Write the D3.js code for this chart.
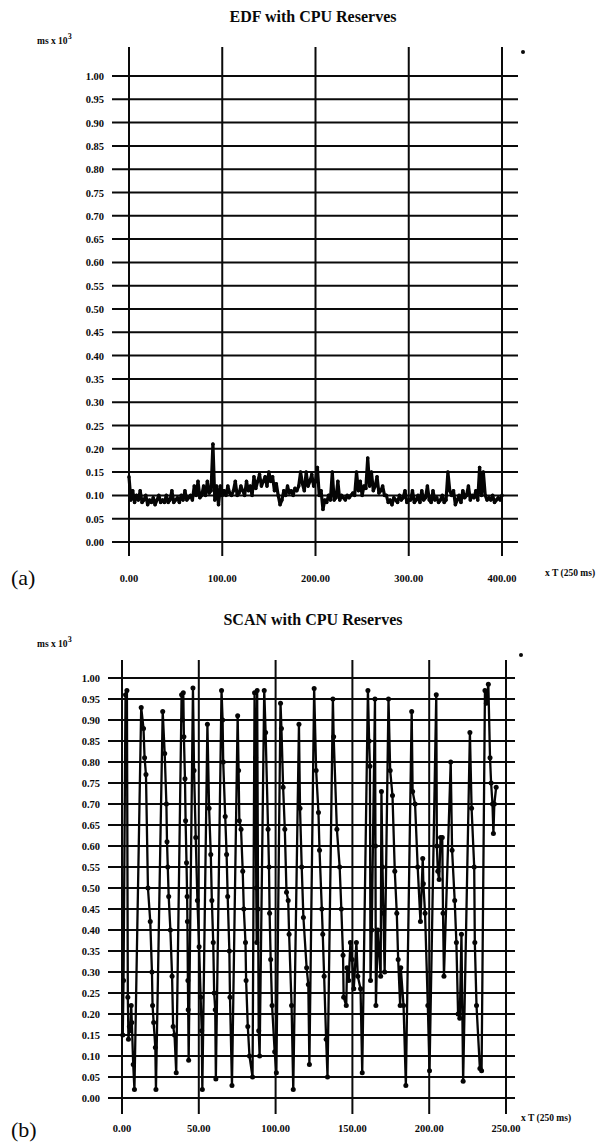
<!DOCTYPE html>
<html>
<head>
<meta charset="utf-8">
<script src="https://cdn.jsdelivr.net/npm/d3@7"></script>
<style>
  body { margin: 0; background: #fff; }
  svg { display: block; }
  text { font-family: "Liberation Serif", "Times New Roman", serif; fill: #0a0a0a; }
</style>
</head>
<body>
<script>
// y tick values shared by both charts (ms x 10^3)
const yTicks = [0.00, 0.05, 0.10, 0.15, 0.20, 0.25, 0.30, 0.35, 0.40, 0.45, 0.50,
                0.55, 0.60, 0.65, 0.70, 0.75, 0.80, 0.85, 0.90, 0.95, 1.00];

// (a) EDF: one sample every 2 periods, t = 0 .. 400
const edfTicks = [0, 100, 200, 300, 400];
const edfStep = 2;
const edfValues = [
  0.14, 0.09, 0.11, 0.085, 0.10, 0.09, 0.11, 0.085, 0.09, 0.10, 0.08,
  0.09, 0.085, 0.095, 0.08, 0.09, 0.10, 0.085, 0.09, 0.085, 0.10,
  0.085, 0.09, 0.11, 0.085, 0.09, 0.095, 0.085, 0.10, 0.09, 0.11,
  0.09, 0.095, 0.10, 0.09, 0.12, 0.10, 0.13, 0.095, 0.10, 0.12,
  0.10, 0.13, 0.105, 0.11, 0.21, 0.09, 0.12, 0.08, 0.12, 0.10,
  0.11, 0.10, 0.12, 0.105, 0.10, 0.11, 0.13, 0.10, 0.105, 0.12,
  0.11, 0.10, 0.13, 0.11, 0.12, 0.10, 0.14, 0.115, 0.13, 0.145,
  0.12, 0.13, 0.14, 0.12, 0.15, 0.13, 0.14, 0.11, 0.125, 0.10,
  0.08, 0.09, 0.11, 0.10, 0.12, 0.105, 0.11, 0.10, 0.115, 0.11,
  0.12, 0.15, 0.125, 0.11, 0.15, 0.12, 0.13, 0.145, 0.12, 0.13,
  0.16, 0.10, 0.11, 0.07, 0.09, 0.085, 0.10, 0.09, 0.15, 0.09,
  0.095, 0.13, 0.09, 0.10, 0.095, 0.09, 0.10, 0.095, 0.10, 0.105,
  0.10, 0.15, 0.11, 0.13, 0.10, 0.12, 0.115, 0.18, 0.12, 0.15,
  0.11, 0.12, 0.14, 0.105, 0.11, 0.12, 0.10, 0.10, 0.085, 0.09,
  0.08, 0.095, 0.09, 0.085, 0.10, 0.09, 0.095, 0.11, 0.085, 0.09,
  0.09, 0.11, 0.085, 0.09, 0.10, 0.085, 0.11, 0.09, 0.095, 0.12,
  0.09, 0.085, 0.11, 0.09, 0.095, 0.085, 0.09, 0.10, 0.085, 0.09,
  0.15, 0.11, 0.10, 0.11, 0.08, 0.09, 0.10, 0.085, 0.11, 0.095,
  0.10, 0.12, 0.09, 0.10, 0.095, 0.11, 0.09, 0.16, 0.10, 0.15,
  0.10, 0.09, 0.095, 0.09, 0.10, 0.085, 0.09, 0.095, 0.09, 0.10
];

// (b) SCAN: sample times (x T) and response times
const scanTicks = [0, 50, 100, 150, 200, 250];
const scanT = [
  0.5, 1.0, 2.3, 3.2, 3.8, 4.2, 4.8, 5.4, 6.0, 6.4, 7.3, 8.1,
  12.5, 14.0, 14.7, 15.6, 16.9, 18.4, 19.5, 19.9, 20.6, 21.7, 22.1,
  26.5, 27.8, 28.9, 29.3, 29.8, 30.4, 31.5, 32.6, 33.3, 34.2, 35.3,
  38.8, 39.3, 39.9, 40.3, 41.0, 41.4, 42.0, 42.4, 42.6, 42.9, 43.1, 43.4,
  46.2, 46.9, 48.0, 49.1, 50.2, 51.2, 51.9, 52.3,
  55.6, 56.7, 57.8, 58.5, 59.4, 60.0, 60.7, 61.1,
  64.8, 65.5, 65.9, 67.2, 68.1, 68.8, 69.9, 70.3, 71.6,
  75.3, 75.9, 76.4, 77.5, 78.6, 79.3, 80.4, 80.8, 81.9, 83.0, 85.0,
  86.3, 87.0, 87.4, 87.7, 88.0, 88.6, 89.0, 89.6,
  92.6, 93.5, 95.1, 95.7, 96.1, 96.8, 97.7, 99.4, 100.5,
  103.2, 103.8, 104.9, 106.0, 107.1, 108.2, 108.8, 110.4, 111.5,
  115.2, 115.9, 117.0, 118.1, 120.2, 121.3, 122.0,
  125.1, 126.4, 127.9, 128.6, 130.1, 130.7, 131.6, 132.9, 133.8,
  137.3, 137.8, 139.9, 141.7, 142.8, 143.9, 144.3, 146.0, 146.5, 147.6, 148.7,
  149.8, 150.9, 152.6, 153.5, 155.3, 156.4,
  160.1, 160.9, 161.4, 161.8, 162.6, 164.7, 165.0, 165.3, 166.5, 168.4, 168.9,
  169.6, 170.2, 171.0, 173.5, 174.6, 176.1, 177.6, 178.9, 179.8, 181.1, 181.5,
  183.3, 184.8,
  188.6, 189.2, 190.8, 192.5, 194.3, 195.8, 196.2, 197.3, 199.1, 200.2,
  204.6, 205.0, 205.6, 206.5, 207.4, 208.5, 209.0, 209.6,
  214.0, 214.9, 216.6, 217.7, 218.8, 219.9, 221.0, 222.1,
  226.5, 227.6, 229.3, 229.7, 230.8, 233.0, 234.1,
  236.3, 237.2, 238.5, 239.6, 240.3, 241.2, 241.8, 242.4, 243.6
];
const scanValues = [
  0.15, 0.28, 0.96, 0.97, 0.24, 0.14, 0.17, 0.16, 0.22, 0.18, 0.08, 0.02,
  0.93, 0.88, 0.81, 0.77, 0.50, 0.42, 0.30, 0.22, 0.18, 0.12, 0.02,
  0.92, 0.82, 0.70, 0.61, 0.55, 0.48, 0.40, 0.29, 0.17, 0.15, 0.06,
  0.96, 0.90, 0.965, 0.86, 0.76, 0.66, 0.56, 0.48, 0.42, 0.28, 0.21, 0.09,
  0.976, 0.78, 0.62, 0.47, 0.36, 0.24, 0.16, 0.02,
  0.89, 0.69, 0.58, 0.47, 0.37, 0.25, 0.21, 0.045,
  0.97, 0.90, 0.80, 0.67, 0.58, 0.48, 0.35, 0.24, 0.03,
  0.91, 0.78, 0.66, 0.64, 0.54, 0.45, 0.37, 0.28, 0.17, 0.10, 0.05,
  0.965, 0.81, 0.50, 0.37, 0.97, 0.45, 0.16, 0.10,
  0.97, 0.87, 0.64, 0.55, 0.44, 0.33, 0.22, 0.11, 0.06,
  0.94, 0.88, 0.74, 0.64, 0.49, 0.47, 0.39, 0.22, 0.02,
  0.89, 0.69, 0.55, 0.43, 0.31, 0.27, 0.08,
  0.975, 0.78, 0.68, 0.59, 0.45, 0.39, 0.29, 0.14, 0.05,
  0.95, 0.86, 0.64, 0.55, 0.45, 0.34, 0.24, 0.22, 0.31, 0.28, 0.37,
  0.33, 0.26, 0.37, 0.29, 0.26, 0.06,
  0.97, 0.85, 0.79, 0.28, 0.40, 0.95, 0.60, 0.22, 0.40, 0.29, 0.73,
  0.55, 0.44, 0.30, 0.95, 0.78, 0.72, 0.54, 0.44, 0.33, 0.22, 0.31,
  0.22, 0.03,
  0.92, 0.73, 0.70, 0.55, 0.42, 0.57, 0.51, 0.44, 0.22, 0.065,
  0.96, 0.60, 0.54, 0.52, 0.62, 0.62, 0.44, 0.29,
  0.80, 0.59, 0.47, 0.37, 0.20, 0.19, 0.39, 0.04,
  0.87, 0.69, 0.55, 0.37, 0.22, 0.07, 0.065,
  0.97, 0.94, 0.985, 0.81, 0.75, 0.70, 0.63, 0.70, 0.74
];

const W = 605, H = 1142;
const svg = d3.select("body").append("svg")
    .attr("width", W)
    .attr("height", H);

function drawPanel(o) {
    const g = svg.append("g");

    const x = d3.scaleLinear().domain([o.xTicks[0], o.xTicks[o.xTicks.length - 1]]).range([o.x0, o.x1]);
    const y = d3.scaleLinear().domain([0, 1]).range([o.y0, o.y1]);

    // title + unit
    g.append("text")
        .attr("x", o.titleX).attr("y", o.titleY)
        .attr("text-anchor", "middle")
        .style("font-size", "16px").style("font-weight", "bold")
        .text(o.title);
    const unit = g.append("text")
        .attr("x", 37).attr("y", o.unitY)
        .style("font-size", "9.5px").style("font-weight", "bold");
    unit.append("tspan").text("ms x 10");
    unit.append("tspan").attr("dy", -5).style("font-size", "8px").text("3");

    // horizontal grid
    g.append("g").selectAll("line")
        .data(yTicks)
        .join("line")
        .attr("x1", o.gridL).attr("x2", o.gridR)
        .attr("y1", d => y(d)).attr("y2", d => y(d))
        .attr("stroke", "#0a0a0a").attr("stroke-width", 2);

    // vertical grid
    g.append("g").selectAll("line")
        .data(o.xTicks)
        .join("line")
        .attr("x1", d => x(d)).attr("x2", d => x(d))
        .attr("y1", o.vTop).attr("y2", o.vBot)
        .attr("stroke", "#0a0a0a").attr("stroke-width", 2);

    // y labels
    g.append("g").selectAll("text")
        .data(yTicks)
        .join("text")
        .attr("x", o.gridL - 8).attr("y", d => y(d) + 4)
        .attr("text-anchor", "end")
        .style("font-size", "10.5px").style("font-weight", "bold")
        .text(d3.format(".2f"));

    // x labels
    g.append("g").selectAll("text")
        .data(o.xTicks)
        .join("text")
        .attr("x", d => x(d)).attr("y", o.xLabelY)
        .attr("text-anchor", "middle")
        .style("font-size", "10.5px").style("font-weight", "bold")
        .text(d3.format(".2f"));

    g.append("text")
        .attr("x", o.xUnitX).attr("y", o.xUnitY)
        .style("font-size", "9.5px").style("font-weight", "bold")
        .text("x T (250 ms)");

    g.append("text")
        .attr("x", 11).attr("y", o.tagY)
        .style("font-size", "22px")
        .text(o.tag);

    g.append("circle")
        .attr("cx", o.dotX).attr("cy", o.dotY).attr("r", 2)
        .attr("fill", "#0a0a0a");

    // series
    const pts = o.t.map((t, i) => [t, o.v[i]]);
    g.append("path")
        .datum(pts)
        .attr("fill", "none")
        .attr("stroke", "#050505")
        .attr("stroke-width", o.lineW)
        .attr("stroke-linejoin", "round")
        .attr("d", d3.line().x(d => x(d[0])).y(d => y(d[1])));
    g.append("g").selectAll("circle")
        .data(pts)
        .join("circle")
        .attr("cx", d => x(d[0])).attr("cy", d => y(d[1]))
        .attr("r", o.dotR)
        .attr("fill", "#050505");
}

drawPanel({
    title: "EDF with CPU Reserves", titleX: 313, titleY: 22, unitY: 44,
    xTicks: edfTicks, t: edfValues.map((v, i) => i * edfStep), v: edfValues,
    x0: 129, x1: 502, y0: 542, y1: 76,
    gridL: 112, gridR: 518, vTop: 47, vBot: 556,
    xLabelY: 582, xUnitX: 545, xUnitY: 576, tagY: 585, tag: "(a)",
    dotX: 523, dotY: 52, lineW: 3.2, dotR: 1.8
});

drawPanel({
    title: "SCAN with CPU Reserves", titleX: 313, titleY: 625, unitY: 647,
    xTicks: scanTicks, t: scanT, v: scanValues,
    x0: 122, x1: 506, y0: 1098, y1: 678,
    gridL: 108, gridR: 515, vTop: 660, vBot: 1114,
    xLabelY: 1132, xUnitX: 521, xUnitY: 1121, tagY: 1137, tag: "(b)",
    dotX: 521, dotY: 655, lineW: 2.3, dotR: 2.5
});
</script>
</body>
</html>
